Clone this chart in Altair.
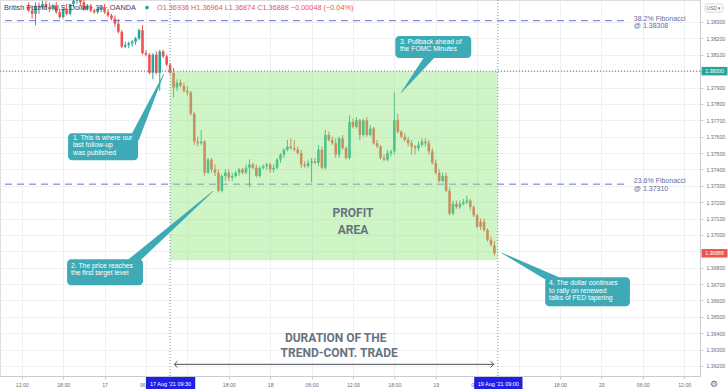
import altair as alt
import pandas as pd

# ---------------- data ----------------
# bar open times, hours counted from 16 Aug 2021 00:00 (30-minute bars, 16 Aug 13:00 .. 19 Aug 08:30)
bar_hours = [13.0 + 0.5 * i for i in range(136)]

opens = [
    1.3839, 1.3837, 1.3835, 1.3840, 1.3839, 1.3841, 1.3839, 1.3838, 1.3840, 1.3836,
    1.3833, 1.3838, 1.3835, 1.3841, 1.3843, 1.3844, 1.3842, 1.3838, 1.3840, 1.3837,
    1.3836, 1.3838, 1.3839, 1.3836, 1.3834, 1.3832, 1.3829, 1.3824, 1.3815, 1.3816,
    1.3817, 1.3818, 1.3820, 1.3825, 1.3811, 1.3810, 1.3799, 1.3810, 1.3799, 1.3812,
    1.3809, 1.3804, 1.3799, 1.3790, 1.3793, 1.3791, 1.3788, 1.3787, 1.3774, 1.3757,
    1.3756, 1.3757, 1.3738, 1.3746, 1.3740, 1.3738, 1.3727, 1.3736, 1.3738, 1.3735,
    1.3736, 1.3738, 1.3740, 1.3738, 1.3741, 1.3743, 1.3741, 1.3736, 1.3741, 1.3742,
    1.3743, 1.3740, 1.3741, 1.3746, 1.3749, 1.3752, 1.3754, 1.3753, 1.3752, 1.3750,
    1.3743, 1.3742, 1.3744, 1.3745, 1.3744, 1.3752, 1.3741, 1.3761, 1.3758, 1.3756,
    1.3749, 1.3759, 1.3753, 1.3747, 1.3769, 1.3766, 1.3770, 1.3761, 1.3770, 1.3761,
    1.3765, 1.3756, 1.3754, 1.3747, 1.3746, 1.3750, 1.3751, 1.3770, 1.3763, 1.3760,
    1.3758, 1.3756, 1.3754, 1.3753, 1.3755, 1.3757, 1.3756, 1.3751, 1.3744, 1.3738,
    1.3733, 1.3736, 1.3727, 1.3713, 1.3719, 1.3717, 1.3719, 1.3720, 1.3721, 1.3717,
    1.3712, 1.3708, 1.3708, 1.3703, 1.3697, 1.36936,
]
highs = [
    1.3842, 1.3840, 1.3842, 1.3842, 1.3843, 1.3843, 1.3842, 1.3841, 1.3842, 1.3838,
    1.3839, 1.3841, 1.3841, 1.3844, 1.3845, 1.3845, 1.3844, 1.3841, 1.3841, 1.3838,
    1.3839, 1.3840, 1.3841, 1.3838, 1.3835, 1.3834, 1.3832, 1.3825, 1.3818, 1.3818,
    1.3819, 1.3821, 1.3826, 1.3828, 1.3813, 1.3811, 1.3811, 1.3812, 1.3813, 1.3813,
    1.3810, 1.3805, 1.3802, 1.3795, 1.3795, 1.3793, 1.3791, 1.3788, 1.3775, 1.3760,
    1.3764, 1.3758, 1.3747, 1.3747, 1.3743, 1.3740, 1.3737, 1.3740, 1.3740, 1.3738,
    1.3739, 1.3741, 1.3741, 1.3743, 1.3746, 1.3744, 1.3743, 1.3742, 1.3743, 1.3744,
    1.3744, 1.3743, 1.3747, 1.3750, 1.3753, 1.3758, 1.3759, 1.3758, 1.3754, 1.3752,
    1.3745, 1.3746, 1.3747, 1.3747, 1.3755, 1.3754, 1.3764, 1.3763, 1.3760, 1.3759,
    1.3760, 1.3761, 1.3754, 1.3773, 1.3771, 1.3772, 1.3771, 1.3771, 1.3772, 1.3767,
    1.3766, 1.3758, 1.3755, 1.3749, 1.3752, 1.3752, 1.3787, 1.3774, 1.3764, 1.3762,
    1.3760, 1.3758, 1.3755, 1.3757, 1.3759, 1.3759, 1.3758, 1.3753, 1.3746, 1.3740,
    1.3738, 1.3738, 1.3729, 1.3721, 1.3721, 1.3721, 1.3722, 1.3724, 1.3722, 1.3718,
    1.3713, 1.3710, 1.3710, 1.3704, 1.3699, 1.36964,
]
lows = [
    1.3836, 1.3832, 1.3828, 1.3835, 1.3838, 1.3838, 1.3836, 1.3837, 1.3835, 1.3832,
    1.3832, 1.3834, 1.3834, 1.3839, 1.3841, 1.3840, 1.3837, 1.3837, 1.3836, 1.3835,
    1.3835, 1.3836, 1.3835, 1.3833, 1.3831, 1.3827, 1.3823, 1.3814, 1.3814, 1.3814,
    1.3815, 1.3816, 1.3819, 1.3810, 1.3809, 1.3798, 1.3795, 1.3798, 1.3788, 1.3808,
    1.3803, 1.3798, 1.3784, 1.3788, 1.3790, 1.3787, 1.3785, 1.3773, 1.3755, 1.3754,
    1.3755, 1.3736, 1.3737, 1.3738, 1.3736, 1.3726, 1.3726, 1.3733, 1.3733, 1.3733,
    1.3735, 1.3736, 1.3737, 1.3737, 1.3729, 1.3740, 1.3735, 1.3735, 1.3740, 1.3740,
    1.3738, 1.3738, 1.3740, 1.3744, 1.3747, 1.3751, 1.3752, 1.3751, 1.3749, 1.3741,
    1.3741, 1.3741, 1.3732, 1.3743, 1.3742, 1.3740, 1.3740, 1.3757, 1.3755, 1.3747,
    1.3747, 1.3752, 1.3746, 1.3746, 1.3765, 1.3765, 1.3758, 1.3760, 1.3760, 1.3760,
    1.3755, 1.3753, 1.3746, 1.3745, 1.3745, 1.3748, 1.3749, 1.3762, 1.3759, 1.3757,
    1.3754, 1.3749, 1.3749, 1.3751, 1.3754, 1.3754, 1.3749, 1.3743, 1.3737, 1.3732,
    1.3732, 1.3726, 1.3712, 1.3712, 1.3716, 1.3716, 1.3718, 1.3719, 1.3715, 1.3711,
    1.3704, 1.3703, 1.3702, 1.3696, 1.3693, 1.36874,
]
closes = [
    1.3837, 1.3835, 1.3840, 1.3839, 1.3841, 1.3839, 1.3838, 1.3840, 1.3836, 1.3833,
    1.3838, 1.3835, 1.3841, 1.3843, 1.3844, 1.3842, 1.3838, 1.3840, 1.3837, 1.3836,
    1.3838, 1.3839, 1.3836, 1.3834, 1.3832, 1.3829, 1.3824, 1.3815, 1.3816, 1.3817,
    1.3818, 1.3820, 1.3825, 1.3811, 1.3810, 1.3799, 1.3810, 1.3799, 1.3812, 1.3809,
    1.3804, 1.3799, 1.3790, 1.3793, 1.3791, 1.3788, 1.3787, 1.3774, 1.3757, 1.3756,
    1.3757, 1.3738, 1.3746, 1.3740, 1.3738, 1.3727, 1.3736, 1.3738, 1.3735, 1.3736,
    1.3738, 1.3740, 1.3738, 1.3741, 1.3743, 1.3741, 1.3736, 1.3741, 1.3742, 1.3743,
    1.3740, 1.3741, 1.3746, 1.3749, 1.3752, 1.3754, 1.3753, 1.3752, 1.3750, 1.3743,
    1.3742, 1.3744, 1.3745, 1.3744, 1.3752, 1.3741, 1.3761, 1.3758, 1.3756, 1.3749,
    1.3759, 1.3753, 1.3747, 1.3769, 1.3766, 1.3770, 1.3761, 1.3770, 1.3761, 1.3765,
    1.3756, 1.3754, 1.3747, 1.3746, 1.3750, 1.3751, 1.3770, 1.3763, 1.3760, 1.3758,
    1.3756, 1.3754, 1.3753, 1.3755, 1.3757, 1.3756, 1.3751, 1.3744, 1.3738, 1.3733,
    1.3736, 1.3727, 1.3713, 1.3719, 1.3717, 1.3719, 1.3720, 1.3721, 1.3717, 1.3712,
    1.3705, 1.3705, 1.3703, 1.3697, 1.3694, 1.36888,
]

x_tick_hours = [12, 18, 24, 30, 36, 42, 48, 54, 60, 66, 72, 78, 84, 90, 96, 102, 108]
hidden_tick_hours = [36, 84]   # covered by the cursor date labels
y_tick_prices = [1.362, 1.363, 1.364, 1.365, 1.366, 1.367, 1.368, 1.369, 1.370, 1.371, 1.372,
                 1.373, 1.374, 1.375, 1.376, 1.377, 1.378, 1.379, 1.380, 1.381, 1.382, 1.383]

fib_levels = [1.38308, 1.37310]
fib_names = ["38.2% Fibonacci", "23.6% Fibonacci"]
round_level = 1.38000
last_close = 1.36888

trade_start, trade_end = 33.5, 81.0          # 17 Aug 09:30 -> 19 Aug 09:00
profit_top, profit_bottom = 1.38000, 1.36845

callout_text = [
    "1. This is where our\nlast follow-up\nwas published",
    "2. The price reaches\nthe first target level",
    "3. Pullback ahead of\nthe FOMC Minutes",
    "4. The dollar continues\nto rally on renewed\ntalks of FED tapering",
]
callout_x1 = [18.71, 18.57, 66.14, 87.86]
callout_x2 = [28.86, 29.57, 77.14, 100.14]
callout_y1 = [1.37621, 1.36852, 1.38214, 1.36742]
callout_y2 = [1.37456, 1.36693, 1.38080, 1.36564]
callout_tx = [19.43, 19.14, 66.81, 88.43]
callout_ty = [1.37610, 1.36830, 1.38196, 1.36722]
pointer_tip_t = [32.57, 39.71, 66.96, 81.57]
pointer_tip_p = [1.37982, 1.37267, 1.37867, 1.36890]
pointer_base_t = [28.43, 27.86, 71.29, 89.57]
pointer_base_p = [1.37597, 1.36829, 1.38099, 1.36717]

# ---------------- chart ----------------
X_DOM = [9.5714, 109.5714]
Y_DOM = [1.361388, 1.384343]
xs = alt.Scale(domain=X_DOM, nice=False, zero=False)
ys = alt.Scale(domain=Y_DOM, nice=False, zero=False)

RED, GREEN, TEAL = "#ef5350", "#26a69a", "#3eaab6"
FONT = "Liberation Sans"

hidden_test = " || ".join(f"datum.value == {h}" for h in hidden_tick_hours)
x_label_expr = (f"({hidden_test}) ? '' : (datum.value % 24 == 0 ? toString(16 + datum.value / 24) : "
                "((datum.value % 24 < 10 ? '0' : '') + toString(datum.value % 24) + ':00'))")

X_AXIS = alt.Axis(values=x_tick_hours, labelExpr=x_label_expr, grid=True, gridColor="#eef0f4",
                  domainColor="#c8cbd3", tickColor="#c8cbd3", tickSize=3, labelPadding=3,
                  labelFontSize=5.2, labelColor="#6b6e78", labelFont=FONT, labelFlush=False,
                  labelOverlap=False, orient="bottom", title=None)
Y_AXIS = alt.Axis(orient="right", values=y_tick_prices, format=".5f", grid=True, gridColor="#eef0f4",
                  domainColor="#c8cbd3", tickColor="#c8cbd3", tickSize=3, labelPadding=3,
                  labelFontSize=5.2, labelColor="#6b6e78", labelFont=FONT, labelOverlap=False,
                  labelFlush=False, title=None)


def X(field):
    return alt.X(field, scale=xs, axis=X_AXIS)


def Y(field):
    return alt.Y(field, scale=ys, axis=Y_AXIS)


candles = pd.DataFrame({"t": bar_hours, "open": opens, "high": highs, "low": lows, "close": closes})
candles["dir"] = ["up" if c >= o else "down" for o, c in zip(opens, closes)]
ccolor = alt.Color("dir:N", scale=alt.Scale(domain=["up", "down"], range=[GREEN, RED]), legend=None)

wicks = alt.Chart(candles).mark_rule(strokeWidth=1, clip=True).encode(
    x=X("t:Q"), y=Y("low:Q"), y2="high:Q", color=ccolor)
bodies = alt.Chart(candles).mark_bar(size=2.6, clip=True).encode(
    x=X("t:Q"), y=Y("open:Q"), y2="close:Q", color=ccolor)

fib_df = pd.DataFrame({"p": fib_levels, "x1": [X_DOM[0]] * 2, "x2": [99.57] * 2})
fib_lines = alt.Chart(fib_df).mark_rule(color="#6575c8", strokeWidth=1, strokeDash=[7, 5]).encode(
    x=X("x1:Q"), x2="x2:Q", y=Y("p:Q"))

round_line = alt.Chart(pd.DataFrame({"p": [round_level]})).mark_rule(
    color="#6d6d5a", strokeWidth=1, strokeDash=[1, 2]).encode(y=Y("p:Q"))

profit = alt.Chart(pd.DataFrame({"a": [trade_start], "b": [trade_end], "top": [profit_top], "bot": [profit_bottom]})
                   ).mark_rect(color="#8ce678", opacity=0.42).encode(
    x=X("a:Q"), x2="b:Q", y=Y("top:Q"), y2="bot:Q")

vlines = alt.Chart(pd.DataFrame({"t": [trade_start, trade_end]})).mark_rule(
    color="#7f8ab5", strokeWidth=1, strokeDash=[1, 2]).encode(x=X("t:Q"))

fib_text_df = pd.DataFrame({
    "t": [100.71] * 4,
    "p": [1.38321, 1.38273, 1.37329, 1.37281],
    "txt": [fib_names[0], "@ " + f"{fib_levels[0]:.5f}", fib_names[1], "@ " + f"{fib_levels[1]:.5f}"],
})
fib_text = alt.Chart(fib_text_df).mark_text(align="left", baseline="middle", font=FONT, fontSize=7,
                                            color="#5f6b9e").encode(
    x=X("t:Q"), y=Y("p:Q"), text="txt:N")

big_df = pd.DataFrame({
    "t": [60.0, 60.0, 57.5, 58.0],
    "p": [1.37133, 1.37029, 1.36372, 1.36277],
    "txt": ["PROFIT", "AREA", "DURATION OF THE", "TREND-CONT. TRADE"],
})
big_text = alt.Chart(big_df).mark_text(align="center", baseline="middle", font="Roboto", fontWeight="bold",
                                       fontSize=12, color="#66737f").encode(
    x=X("t:Q"), y=Y("p:Q"), text="txt:N")

arrow_df = pd.DataFrame({"a": [34.1], "b": [80.4], "p": [1.36210]})
arrow_line = alt.Chart(arrow_df).mark_rule(color="#4a4f57", strokeWidth=1).encode(
    x=X("a:Q"), x2="b:Q", y=Y("p:Q"))
heads_df = pd.DataFrame({"t": [34.1, 80.4], "p": [1.36210, 1.36210], "side": ["l", "r"]})
head_l = alt.Chart(heads_df[heads_df.side == "l"]).mark_point(
    shape="M1,-1L0,0L1,1", filled=False, size=40, color="#4a4f57", strokeWidth=1, opacity=1).encode(
    x=X("t:Q"), y=Y("p:Q"))
head_r = alt.Chart(heads_df[heads_df.side == "r"]).mark_point(
    shape="M-1,-1L0,0L-1,1", filled=False, size=40, color="#4a4f57", strokeWidth=1, opacity=1).encode(
    x=X("t:Q"), y=Y("p:Q"))

ptr_rows = []
for i in range(4):
    ptr_rows.append({"id": i, "o": 0, "t": pointer_tip_t[i], "p": pointer_tip_p[i], "w": 0.5})
    ptr_rows.append({"id": i, "o": 1, "t": pointer_base_t[i], "p": pointer_base_p[i], "w": 9})
pointers = alt.Chart(pd.DataFrame(ptr_rows)).mark_trail(color=TEAL).encode(
    x=X("t:Q"), y=Y("p:Q"),
    size=alt.Size("w:Q", scale=None, legend=None), detail="id:N", order="o:Q")

box_df = pd.DataFrame({"x1": callout_x1, "x2": callout_x2, "y1": callout_y1, "y2": callout_y2,
                       "tx": callout_tx, "ty": callout_ty, "txt": callout_text})
boxes = alt.Chart(box_df).mark_rect(color=TEAL, cornerRadius=4).encode(
    x=X("x1:Q"), x2="x2:Q", y=Y("y1:Q"), y2="y2:Q")
box_text = alt.Chart(box_df).mark_text(align="left", baseline="top", font=FONT, fontSize=6.8, lineHeight=7.4,
                                       color="white", lineBreak="\n").encode(
    x=X("tx:Q"), y=Y("ty:Q"), text="txt:N")

# x-axis cursor labels
xlab_df = pd.DataFrame({"a": [30.0, 77.57], "b": [37.14, 84.57], "c": [33.57, 81.07],
                        "txt": ["17 Aug '21   09:30", "19 Aug '21   09:00"]})
xlab_box = alt.Chart(xlab_df).mark_rect(color="#1f1fe8").encode(
    x=X("a:Q"), x2="b:Q", y=alt.value(377), y2=alt.value(389))
xlab_txt = alt.Chart(xlab_df).mark_text(font=FONT, fontSize=5.5, color="white", baseline="middle").encode(
    x=X("c:Q"), y=alt.value(383.5), text="txt:N")

# y-axis price labels
plab_df = pd.DataFrame({"p": [round_level, last_close], "txt": [f"{round_level:.5f}", f"{last_close:.5f}"],
                        "kind": ["level", "last"]})
pcol = alt.Color("kind:N", scale=alt.Scale(domain=["level", "last"], range=["#2f7d32", RED]), legend=None)
plab_box = alt.Chart(plab_df).mark_tick(size=26, thickness=8.5, opacity=1).encode(
    x=alt.value(714.5), y=Y("p:Q"), color=pcol)
plab_txt = alt.Chart(plab_df).mark_text(font=FONT, fontSize=5.2, color="white", baseline="middle").encode(
    x=alt.value(714.5), y=Y("p:Q"), text="txt:N")

one = pd.DataFrame({"a": [0]})
usd_box = alt.Chart(one).mark_rect(fill="white", stroke="#c8cbd3", strokeWidth=0.8, cornerRadius=2).encode(
    x=alt.value(705), x2=alt.value(723), y=alt.value(4), y2=alt.value(12))
usd_txt = alt.Chart(one).mark_text(font=FONT, fontSize=5, color="#6b6e78", baseline="middle").encode(
    x=alt.value(714), y=alt.value(8), text=alt.value("USD ▾"))
gear = alt.Chart(one).mark_text(font="DejaVu Sans", fontSize=9, color="#6b6e78", baseline="middle").encode(
    x=alt.value(714), y=alt.value(383.5), text=alt.value("⚙"))

title_txt = alt.Chart(one).mark_text(font=FONT, fontSize=7.3, color="#3a3e4a", align="left", baseline="middle").encode(
    x=alt.value(4), y=alt.value(7.5), text=alt.value("British Pound / U.S. Dollar · 30 · OANDA"))
dot = alt.Chart(one).mark_point(filled=True, size=14, color="#26a69a", opacity=1).encode(
    x=alt.value(147), y=alt.value(7.5))
ohlc_txt = alt.Chart(one).mark_text(font=FONT, fontSize=7.3, color=RED, align="left", baseline="middle").encode(
    x=alt.value(157), y=alt.value(7.5),
    text=alt.value("O1.36936  H1.36964  L1.36874  C1.36888  −0.00048 (−0.04%)"))

chart = alt.layer(
    wicks, bodies, fib_lines, round_line, profit, vlines, fib_text, big_text,
    arrow_line, head_l, head_r, pointers, boxes, box_text,
    xlab_box, xlab_txt, plab_box, plab_txt, usd_box, usd_txt, gear, title_txt, dot, ohlc_txt,
).properties(
    width=700, height=376, autosize="none",
    padding={"left": 0, "top": 0, "right": 28, "bottom": 15},
).configure_view(stroke=None).configure(background="white")

chart.save("out.html", embed_options={"renderer": "svg", "actions": False})
